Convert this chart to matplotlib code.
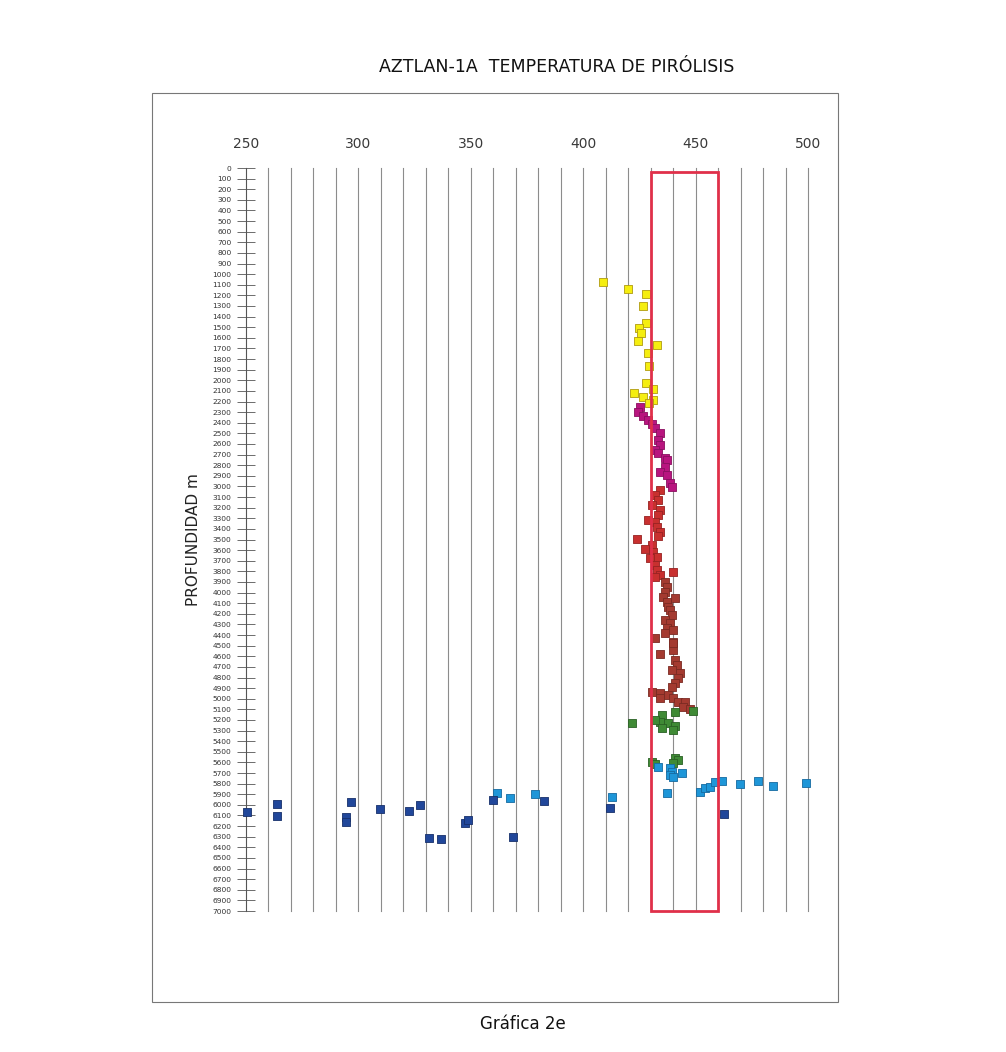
import matplotlib.pyplot as plt
from matplotlib.patches import Rectangle

# Temperatura Tmax (C) y profundidad (m) por grupo
amarillo_t = [408.8, 419.9, 427.9, 426.6, 428.0, 424.8, 425.7, 424.4, 432.8, 428.8,
              429.3, 428.0, 431.0, 422.6, 426.6, 431.2, 429.4]
amarillo_d = [1074, 1140, 1187, 1300, 1460, 1508, 1555, 1630, 1668, 1743,
              1865, 2025, 2085, 2120, 2160, 2186, 2215]

magenta_t = [425.3, 424.4, 426.6, 428.8, 430.6, 431.9, 434.2, 433.3, 434.2, 431.9,
             433.3, 436.4, 437.3, 436.4, 434.2, 437.3, 438.6, 439.5]
magenta_d = [2250, 2300, 2335, 2375, 2410, 2450, 2497, 2560, 2610, 2655,
             2685, 2735, 2750, 2815, 2865, 2890, 2970, 3005]

rojo_t = [434.2, 432.0, 433.3, 430.6, 434.2, 433.3, 428.8, 431.9, 432.8, 434.2,
          433.3, 423.9, 430.6, 427.5, 431.1, 432.8, 429.7, 431.9, 432.8, 439.9,
          434.2, 431.9]
rojo_d = [3035, 3080, 3130, 3175, 3220, 3270, 3315, 3335, 3380, 3430,
          3465, 3495, 3550, 3590, 3615, 3665, 3675, 3740, 3785, 3805,
          3835, 3855]

cafe_t = [436.4, 437.3, 436.4, 435.5, 440.8, 437.3, 437.7, 438.6, 439.5, 436.4,
          438.6, 437.3, 439.9, 436.4, 431.9, 439.9, 439.9, 439.9, 434.2, 440.8,
          441.7, 439.5, 443.1, 442.2, 440.8, 439.5, 430.6, 434.2, 437.7, 434.2,
          439.9, 442.2, 445.3, 444.4, 447.5]
cafe_d = [3900, 3950, 3995, 4040, 4055, 4090, 4135, 4165, 4210, 4260,
          4290, 4335, 4355, 4380, 4430, 4465, 4540, 4475, 4580, 4635,
          4680, 4730, 4760, 4805, 4850, 4890, 4935, 4950, 4965, 4995,
          4995, 5030, 5030, 5080, 5095]

verde_t = [448.8, 440.8, 435.1, 434.2, 421.7, 437.7, 440.8, 435.1, 439.9, 432.0,
           440.8, 442.2, 430.6, 432.0, 439.9]
verde_d = [5115, 5125, 5155, 5220, 5230, 5230, 5255, 5275, 5295, 5200,
           5560, 5580, 5595, 5615, 5605]

celeste_t = [433.3, 438.6, 439.5, 438.6, 443.9, 439.9, 437.3, 412.8, 452.0, 454.2,
             456.4, 458.6, 461.7, 469.8, 477.8, 484.4, 499.1, 361.7, 367.4, 378.6]
celeste_d = [5645, 5650, 5690, 5720, 5700, 5740, 5890, 5925, 5880, 5840,
             5830, 5785, 5775, 5805, 5775, 5820, 5795, 5890, 5935, 5900]

azul_t = [250.4, 263.8, 263.8, 296.7, 294.5, 294.5, 309.6, 322.5, 327.4, 331.4,
          336.7, 347.4, 348.8, 359.9, 382.6, 368.8, 411.9, 462.6]
azul_d = [6070, 5990, 6105, 5975, 6115, 6160, 6040, 6060, 6000, 6310,
          6320, 6170, 6145, 5955, 5965, 6300, 6030, 6085]

series = [
    (amarillo_t, amarillo_d, '#f5ee10', '#b09a10'),
    (magenta_t, magenta_d, '#b8157f', '#8a1060'),
    (rojo_t, rojo_d, '#c8302f', '#962222'),
    (cafe_t, cafe_d, '#a43a30', '#7a2a22'),
    (verde_t, verde_d, '#3f8a35', '#2a6024'),
    (celeste_t, celeste_d, '#1e96d8', '#156aa0'),
    (azul_t, azul_d, '#21479a', '#17306a'),
]

fig = plt.figure(figsize=(10.06, 10.52), dpi=100)
ax = fig.add_axes([0.2445, 0.134, 0.5587, 0.7063])

for t, d, fc, ec in series:
    ax.scatter(t, d, marker='s', s=40, c=fc, edgecolors=ec, linewidths=0.6,
               zorder=3, clip_on=False)

ax.set_xlim(250, 500)
ax.set_ylim(7000, 0)

# vertical grid every 10
for x in range(260, 501, 10):
    ax.axvline(x, color='#8c8c8c', lw=0.8, zorder=1, clip_on=False)

ax.set_xticks(range(250, 501, 50))
ax.xaxis.tick_top()
ax.tick_params(axis='x', length=0, pad=12, labelsize=10, labelcolor='#3a3a3a')
ax.set_yticks(range(0, 7001, 100))
ax.tick_params(axis='y', direction='inout', length=13, width=0.6, color='#555555',
               labelsize=5.4, labelcolor='#333333', pad=4)
for s in ['top', 'right', 'bottom']:
    ax.spines[s].set_visible(False)
ax.spines['left'].set_color('#555555')
ax.spines['left'].set_linewidth(0.8)

ax.set_ylabel('PROFUNDIDAD m', fontsize=11, color='#222222', labelpad=8)

# ventana de madurez
ax.add_patch(Rectangle((430, 40), 30, 6960, fill=False, edgecolor='#e0304a',
                       lw=2, zorder=4, clip_on=False))

# marco exterior
fig.patches.append(Rectangle((152 / 1006, 1 - 1002 / 1052), 686 / 1006, 909 / 1052,
                             transform=fig.transFigure, fill=False,
                             edgecolor='#777777', lw=0.8))

fig.text(557 / 1006, 1 - 67 / 1052, 'AZTLAN-1A  TEMPERATURA DE PIRÓLISIS',
         ha='center', va='center', fontsize=12.5, color='#111111')
fig.text(523 / 1006, 1 - 1024 / 1052, 'Gráfica 2e', ha='center', va='center',
         fontsize=12, color='#111111')

fig.savefig('out.png', dpi=100, facecolor='white')
